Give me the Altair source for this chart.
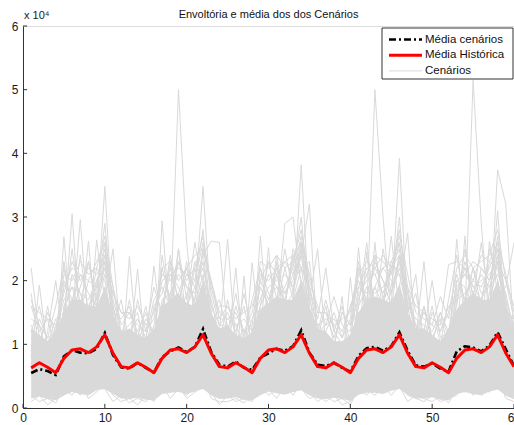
import altair as alt
import pandas as pd

FONT = "Liberation Sans"

# months 1..60 ; all flows in units of 10^4
MESES = list(range(1, 61))

MEDIA_HISTORICA = [
    0.63, 0.71, 0.64, 0.555, 0.78, 0.91, 0.93, 0.87, 0.96, 1.15, 0.86, 0.65,
    0.63, 0.71, 0.64, 0.555, 0.78, 0.91, 0.93, 0.87, 0.96, 1.15, 0.86, 0.65,
    0.63, 0.71, 0.64, 0.555, 0.78, 0.91, 0.93, 0.87, 0.96, 1.15, 0.86, 0.65,
    0.63, 0.71, 0.64, 0.555, 0.78, 0.91, 0.93, 0.87, 0.96, 1.15, 0.86, 0.65,
    0.63, 0.71, 0.64, 0.555, 0.78, 0.91, 0.93, 0.87, 0.96, 1.15, 0.86, 0.65,
]

MEDIA_CENARIOS = [
    0.55, 0.61, 0.58, 0.52, 0.81, 0.91, 0.87, 0.86, 0.93, 1.18, 0.83, 0.64,
    0.62, 0.71, 0.63, 0.56, 0.80, 0.89, 0.95, 0.88, 0.96, 1.24, 0.88, 0.68,
    0.65, 0.73, 0.63, 0.60, 0.79, 0.86, 0.93, 0.90, 0.97, 1.22, 0.87, 0.68,
    0.66, 0.71, 0.63, 0.57, 0.82, 0.94, 0.96, 0.90, 0.97, 1.19, 0.90, 0.67,
    0.65, 0.70, 0.62, 0.57, 0.89, 0.97, 0.95, 0.89, 0.98, 1.19, 0.92, 0.66,
]

# dense core of the scenario bundle (lower / upper edge)
FAIXA_INF = [
    0.15, 0.18, 0.14, 0.12, 0.20, 0.25, 0.22, 0.20, 0.28, 0.30, 0.22, 0.15,
    0.14, 0.16, 0.13, 0.12, 0.22, 0.24, 0.25, 0.22, 0.26, 0.30, 0.20, 0.14,
    0.15, 0.17, 0.13, 0.12, 0.20, 0.26, 0.23, 0.21, 0.25, 0.28, 0.20, 0.15,
    0.14, 0.16, 0.14, 0.11, 0.21, 0.24, 0.24, 0.22, 0.27, 0.30, 0.21, 0.15,
    0.15, 0.17, 0.13, 0.12, 0.22, 0.25, 0.22, 0.20, 0.26, 0.29, 0.20, 0.14,
]
FAIXA_SUP = [
    1.25, 1.15, 1.05, 1.20, 1.50, 1.70, 1.70, 1.60, 1.60, 1.90, 1.45, 1.20,
    1.25, 1.15, 1.10, 1.25, 1.60, 1.70, 1.80, 1.65, 1.60, 2.00, 1.50, 1.25,
    1.30, 1.15, 1.10, 1.20, 1.55, 1.65, 1.75, 1.70, 1.70, 2.00, 1.60, 1.25,
    1.20, 1.05, 1.05, 1.15, 1.50, 1.70, 1.75, 1.70, 1.65, 1.95, 1.50, 1.25,
    1.25, 1.15, 1.05, 1.25, 1.55, 1.70, 1.80, 1.70, 1.70, 2.00, 1.60, 1.25,
]

CENARIOS = [
    [2.2, 1.1, 0.7, 0.5, 0.9, 1.2, 1.0, 1.4, 1.1, 1.7, 2.5, 1.0,
     0.6, 0.8, 0.5, 0.6, 1.3, 1.1, 1.5, 1.2, 0.9, 1.4, 1.0, 0.7,
     0.9, 2.2, 0.8, 0.5, 1.0, 1.4, 1.2, 0.9, 1.6, 1.3, 0.8, 0.6,
     0.7, 0.9, 1.75, 0.6, 1.2, 1.0, 1.4, 1.1, 0.9, 1.8, 1.2, 0.5,
     0.8, 0.6, 0.4, 0.9, 2.65, 1.3, 1.0, 1.5, 1.2, 1.6, 0.9, 0.7],
    [0.8, 1.93, 0.9, 0.6, 1.2, 0.9, 1.5, 1.0, 1.4, 1.2, 0.8, 0.6,
     2.38, 0.9, 0.7, 0.5, 0.8, 1.4, 1.1, 1.3, 1.6, 1.9, 0.9, 0.5,
     0.7, 0.6, 2.07, 0.7, 1.3, 1.0, 1.6, 1.2, 1.0, 1.5, 1.1, 0.8,
     0.5, 0.7, 0.6, 2.05, 0.9, 1.5, 1.2, 1.0, 1.7, 1.3, 0.7, 0.9,
     0.6, 0.9, 0.8, 0.5, 1.1, 2.7, 1.3, 0.9, 1.4, 1.9, 1.0, 0.6],
    [0.5, 0.7, 1.2, 2.0, 1.0, 1.3, 0.9, 1.2, 1.5, 1.4, 0.9, 0.7,
     0.9, 2.18, 0.8, 0.6, 1.0, 1.2, 1.4, 0.9, 1.1, 1.6, 1.2, 0.9,
     0.6, 0.8, 0.7, 2.28, 1.1, 1.5, 1.0, 1.4, 1.2, 1.8, 0.9, 0.7,
     0.8, 0.5, 0.7, 0.9, 2.52, 1.2, 1.0, 1.5, 1.3, 1.6, 1.1, 0.6,
     0.7, 0.8, 0.6, 0.7, 1.2, 1.4, 5.15, 2.9, 1.3, 1.7, 1.2, 0.8],
    [1.0, 0.6, 0.8, 0.7, 2.69, 1.1, 1.3, 1.0, 1.2, 1.9, 1.0, 0.5,
     0.7, 0.9, 1.0, 2.23, 1.2, 1.0, 1.6, 1.3, 1.4, 1.5, 0.8, 0.7,
     0.8, 0.5, 0.9, 0.8, 2.7, 1.2, 1.3, 1.0, 1.5, 1.7, 1.3, 0.6,
     0.9, 0.7, 0.5, 0.8, 1.0, 2.45, 1.3, 1.2, 1.0, 1.5, 0.9, 0.8,
     0.5, 0.7, 0.9, 0.6, 1.4, 1.0, 1.6, 1.3, 1.1, 2.0, 1.4, 0.9],
    [0.7, 0.9, 0.6, 0.8, 1.3, 3.05, 1.2, 0.9, 1.3, 1.5, 1.2, 0.8,
     0.6, 0.7, 0.9, 0.7, 2.94, 1.3, 1.1, 1.4, 1.0, 1.7, 1.0, 0.6,
     0.9, 0.7, 0.6, 1.0, 1.2, 2.52, 1.1, 1.5, 1.3, 1.4, 1.0, 0.8,
     0.6, 0.8, 0.7, 0.6, 1.3, 1.5, 5.0, 3.0, 1.4, 1.6, 1.2, 0.7,
     0.9, 0.6, 0.7, 0.8, 1.0, 1.3, 1.5, 1.1, 2.62, 1.8, 1.1, 0.6],
    [0.6, 0.8, 0.9, 0.6, 1.1, 1.4, 2.96, 1.3, 1.0, 1.8, 1.1, 0.9,
     0.8, 0.6, 0.7, 0.9, 1.4, 2.3, 1.2, 1.0, 1.5, 1.3, 1.2, 0.7,
     0.7, 0.9, 0.5, 0.7, 1.1, 1.3, 2.3, 1.2, 1.4, 1.9, 1.1, 0.9,
     0.8, 0.6, 0.9, 0.7, 1.5, 1.1, 2.6, 1.4, 1.2, 1.7, 1.3, 0.6,
     0.7, 0.9, 0.6, 0.8, 1.2, 1.5, 1.3, 1.6, 1.4, 3.74, 3.2, 1.1],
    [0.9, 0.7, 0.6, 0.9, 1.2, 1.0, 1.4, 2.62, 1.1, 1.6, 0.9, 0.7,
     0.7, 0.8, 0.6, 0.8, 1.1, 1.5, 5.0, 2.6, 1.3, 1.8, 1.2, 0.8,
     0.6, 0.7, 0.9, 0.6, 1.3, 1.1, 1.5, 1.3, 1.2, 2.0, 1.4, 0.7,
     0.9, 0.8, 0.6, 0.7, 1.1, 1.4, 1.2, 1.6, 2.7, 1.5, 1.0, 0.8,
     0.8, 0.6, 0.7, 0.9, 1.3, 1.2, 1.5, 1.4, 1.6, 3.1, 1.3, 0.7],
    [0.7, 1.0, 0.8, 0.6, 1.0, 1.5, 1.2, 1.1, 2.64, 1.7, 1.2, 0.8,
     0.9, 0.6, 0.8, 0.7, 1.2, 1.3, 2.5, 1.3, 1.4, 1.6, 1.1, 0.6,
     0.8, 0.7, 0.6, 0.8, 1.2, 1.4, 1.6, 2.9, 3.0, 1.9, 1.2, 0.8,
     0.6, 0.9, 0.7, 0.5, 1.2, 1.3, 1.5, 1.2, 1.6, 3.92, 1.4, 0.9,
     0.7, 0.8, 0.6, 0.7, 1.1, 1.5, 1.3, 1.2, 1.4, 1.8, 1.9, 2.6],
    [0.8, 0.6, 0.7, 0.8, 1.3, 1.2, 1.6, 1.4, 1.5, 3.48, 1.3, 0.7,
     0.6, 0.9, 0.7, 0.6, 1.0, 1.4, 1.3, 1.5, 2.2, 1.7, 1.0, 0.9,
     0.7, 0.6, 0.8, 0.7, 1.2, 1.5, 1.4, 1.3, 1.6, 3.82, 1.5, 0.8,
     0.8, 0.7, 0.6, 0.9, 1.3, 1.2, 1.6, 1.5, 1.4, 1.9, 2.75, 1.0,
     0.6, 0.7, 0.9, 0.6, 1.2, 1.6, 1.4, 1.3, 1.8, 2.7, 1.5, 0.8],
    [0.6, 0.8, 0.7, 0.7, 1.1, 1.3, 1.5, 1.2, 1.8, 2.9, 1.4, 0.9,
     0.8, 0.7, 0.6, 0.8, 1.3, 1.2, 1.6, 1.4, 1.7, 3.48, 1.5, 0.8,
     0.7, 0.8, 0.9, 0.6, 1.4, 1.3, 1.5, 1.6, 1.8, 2.4, 3.2, 1.0,
     0.6, 0.7, 0.8, 0.6, 1.2, 1.4, 1.3, 1.7, 1.9, 3.0, 1.4, 0.7,
     0.9, 0.6, 0.7, 0.8, 1.4, 1.2, 1.7, 1.5, 1.6, 2.4, 1.2, 0.9],
    [0.7, 0.6, 0.9, 0.6, 1.2, 1.5, 1.3, 1.6, 1.9, 2.6, 1.2, 0.8,
     0.7, 0.8, 0.6, 0.7, 1.4, 1.6, 1.4, 1.8, 2.0, 2.8, 1.3, 0.7,
     0.8, 0.6, 0.7, 0.8, 1.3, 1.6, 1.7, 1.9, 2.2, 3.0, 1.6, 0.9,
     0.7, 0.6, 0.8, 0.7, 1.1, 1.5, 1.9, 1.6, 1.8, 2.3, 1.5, 2.1,
     0.8, 0.7, 0.6, 0.9, 1.3, 1.6, 1.8, 1.7, 2.0, 2.5, 1.4, 0.8],
    [0.9, 0.7, 0.6, 0.8, 1.5, 1.7, 1.6, 1.5, 1.7, 2.2, 1.5, 1.0,
     0.8, 0.6, 0.7, 0.9, 1.3, 1.8, 1.7, 1.6, 1.9, 2.4, 2.62, 2.6,
     1.2, 0.8, 0.7, 0.6, 1.5, 1.7, 1.9, 1.8, 2.0, 2.6, 1.8, 0.9,
     0.8, 0.7, 0.6, 0.8, 1.6, 1.9, 1.8, 1.9, 2.1, 2.6, 1.6, 1.0,
     0.7, 0.8, 0.6, 0.7, 1.7, 1.8, 2.0, 1.9, 2.2, 2.5, 1.7, 0.9],
    [0.8, 0.9, 0.7, 0.6, 1.6, 1.9, 1.8, 1.7, 2.0, 2.4, 1.6, 1.1,
     0.9, 0.7, 0.8, 0.7, 1.7, 1.8, 2.1, 1.9, 1.8, 2.3, 1.4, 1.2,
     2.65, 1.0, 0.8, 0.7, 1.6, 1.9, 2.0, 2.1, 1.9, 2.5, 1.7, 2.5,
     1.0, 0.8, 0.7, 0.6, 1.8, 2.0, 2.1, 1.8, 2.2, 2.4, 1.8, 1.1,
     2.3, 0.9, 0.7, 0.8, 1.9, 2.1, 1.9, 2.0, 2.1, 2.3, 1.5, 1.0],
    [1.2, 1.0, 0.9, 1.1, 1.9, 2.2, 2.1, 2.0, 1.9, 2.5, 1.7, 1.2,
     1.1, 1.2, 1.0, 1.3, 2.0, 2.1, 2.2, 2.1, 2.0, 2.6, 1.8, 1.3,
     1.3, 1.1, 1.2, 1.0, 2.1, 2.0, 2.2, 2.3, 2.1, 2.7, 1.9, 1.4,
     2.2, 1.2, 1.0, 1.1, 1.9, 2.2, 2.1, 2.2, 2.3, 2.6, 1.8, 1.3,
     1.2, 2.0, 1.1, 1.2, 2.0, 2.1, 2.3, 2.2, 2.0, 2.6, 1.7, 1.3],
    [1.4, 1.3, 1.1, 1.2, 2.1, 2.0, 2.3, 2.1, 2.2, 2.7, 1.9, 1.3,
     1.5, 1.3, 1.2, 1.4, 2.2, 2.3, 2.0, 2.2, 2.4, 2.5, 2.0, 1.5,
     1.4, 1.5, 1.2, 1.3, 2.3, 2.2, 2.4, 2.2, 2.3, 2.8, 2.0, 1.6,
     1.3, 1.75, 1.3, 1.2, 2.1, 2.3, 2.2, 2.4, 2.2, 2.7, 2.1, 1.5,
     1.4, 1.3, 1.75, 1.4, 2.2, 2.4, 2.2, 2.3, 2.4, 2.8, 2.0, 1.6],
    [1.6, 1.5, 1.4, 1.3, 1.8, 2.3, 2.0, 2.2, 2.1, 2.3, 1.8, 1.5,
     1.4, 1.6, 1.3, 1.5, 2.1, 2.0, 2.3, 2.0, 2.2, 2.7, 1.9, 1.4,
     1.6, 1.4, 1.5, 1.6, 2.0, 2.3, 2.1, 2.3, 2.4, 2.6, 2.1, 1.5,
     1.5, 1.3, 1.4, 1.5, 2.2, 2.1, 2.4, 2.3, 2.1, 2.8, 1.9, 1.6,
     1.5, 1.4, 1.3, 2.25, 2.3, 2.2, 2.0, 2.4, 2.3, 2.6, 2.1, 1.5],
    [0.2, 0.1, 0.15, 0.08, 0.3, 0.2, 0.4, 0.15, 0.25, 0.45, 0.2, 0.1,
     0.15, 0.05, 0.2, 0.1, 0.35, 0.15, 0.3, 0.2, 0.35, 0.5, 0.15, 0.1,
     0.1, 0.15, 0.08, 0.2, 0.25, 0.3, 0.15, 0.35, 0.2, 0.4, 0.25, 0.1,
     0.2, 0.1, 0.15, 0.05, 0.3, 0.2, 0.35, 0.25, 0.3, 0.45, 0.2, 0.15,
     0.1, 0.2, 0.1, 0.15, 0.2, 0.35, 0.2, 0.3, 0.25, 0.5, 0.15, 0.1],
    [0.1, 0.2, 0.05, 0.15, 0.2, 0.35, 0.2, 0.3, 0.4, 0.3, 0.1, 0.2,
     0.08, 0.15, 0.1, 0.2, 0.25, 0.3, 0.35, 0.15, 0.25, 0.35, 0.25, 0.05,
     0.2, 0.1, 0.15, 0.1, 0.35, 0.2, 0.3, 0.25, 0.4, 0.3, 0.15, 0.2,
     0.1, 0.2, 0.05, 0.1, 0.25, 0.3, 0.2, 0.35, 0.2, 0.35, 0.1, 0.2,
     0.15, 0.1, 0.2, 0.08, 0.3, 0.25, 0.35, 0.2, 0.3, 0.4, 0.2, 0.15],
    [1.8, 0.9, 1.6, 1.0, 2.3, 1.4, 2.4, 1.5, 2.2, 2.0, 1.3, 1.7,
     1.0, 1.7, 1.2, 1.9, 1.5, 2.4, 1.6, 2.3, 1.5, 2.5, 1.2, 1.0,
     1.7, 1.1, 1.8, 1.2, 1.6, 2.3, 1.7, 2.5, 1.8, 2.6, 1.4, 1.1,
     1.6, 1.0, 1.5, 1.3, 2.2, 1.5, 2.4, 1.7, 2.3, 2.1, 1.5, 1.8,
     1.1, 1.6, 1.0, 1.7, 2.4, 1.6, 2.2, 1.6, 2.5, 2.0, 1.3, 1.1],
    [1.2, 1.6, 1.0, 1.4, 1.5, 2.5, 1.6, 2.3, 1.7, 2.4, 1.9, 1.1,
     1.7, 1.1, 1.6, 1.0, 2.4, 1.6, 2.5, 1.7, 2.6, 1.9, 1.5, 1.7,
     1.2, 1.8, 1.1, 1.7, 2.2, 1.5, 2.4, 1.6, 2.5, 2.2, 2.3, 1.2,
     1.7, 1.2, 1.6, 1.0, 1.6, 2.6, 1.5, 2.5, 1.8, 2.4, 1.3, 1.0,
     1.6, 1.0, 1.5, 1.2, 1.6, 2.5, 1.7, 2.6, 1.6, 2.3, 2.0, 1.4],
    [1.6, 1.2, 1.4, 0.9, 2.0, 1.7, 2.1, 1.8, 1.6, 2.3, 1.4, 1.2,
     1.3, 1.5, 0.9, 1.6, 1.8, 2.2, 1.7, 2.1, 1.9, 2.2, 1.6, 1.3,
     1.5, 1.2, 1.6, 1.0, 2.0, 1.7, 2.2, 1.8, 2.1, 2.4, 1.5, 1.3,
     1.2, 1.5, 1.1, 1.6, 1.9, 1.8, 2.2, 2.0, 1.8, 2.2, 1.7, 1.2,
     1.6, 1.1, 1.4, 1.0, 1.8, 2.2, 1.8, 2.1, 1.9, 2.3, 1.4, 1.2],
    [0.9, 1.4, 1.1, 1.6, 2.2, 1.5, 1.9, 2.3, 1.6, 2.1, 1.5, 1.4,
     1.6, 1.0, 1.4, 1.2, 1.6, 2.1, 1.9, 1.6, 2.3, 2.0, 1.7, 1.1,
     1.0, 1.6, 1.2, 1.5, 2.2, 1.8, 1.6, 2.2, 1.7, 2.2, 1.4, 1.5,
     1.5, 1.1, 1.5, 1.3, 1.7, 2.1, 1.7, 1.6, 2.2, 2.5, 1.4, 1.3,
     1.0, 1.5, 1.2, 1.5, 2.1, 1.7, 2.2, 1.8, 1.9, 2.1, 1.8, 1.2],
    [1.3, 1.0, 1.5, 1.2, 1.7, 1.9, 1.5, 2.0, 2.3, 2.6, 1.6, 1.0,
     1.2, 1.4, 1.1, 1.7, 1.9, 1.6, 2.3, 1.9, 1.7, 2.5, 2.0, 1.4,
     1.4, 1.3, 1.0, 1.4, 1.7, 2.1, 1.9, 1.7, 2.3, 2.2, 1.9, 1.2,
     1.3, 1.4, 1.2, 1.6, 2.0, 1.7, 2.3, 2.0, 1.6, 2.4, 1.6, 1.4,
     1.3, 1.2, 1.5, 1.1, 2.0, 1.9, 1.6, 2.2, 2.0, 2.4, 1.6, 1.3],
    [1.7, 1.3, 0.8, 1.3, 1.4, 2.1, 1.8, 1.4, 2.0, 2.2, 1.8, 1.5,
     1.5, 1.2, 1.5, 1.1, 2.2, 1.7, 1.8, 2.2, 1.6, 2.1, 1.3, 1.6,
     1.6, 1.3, 1.4, 1.2, 1.9, 1.6, 2.1, 1.6, 2.4, 2.0, 1.7, 1.3,
     1.4, 1.3, 1.1, 1.4, 2.3, 1.6, 1.9, 2.2, 2.0, 2.1, 1.9, 1.2,
     1.5, 1.3, 1.2, 1.6, 1.7, 2.3, 1.9, 1.7, 2.3, 2.2, 1.5, 1.4],
]

Y_TICKS = [0, 1, 2, 3, 4, 5, 6]
X_TICKS = [0, 10, 20, 30, 40, 50, 60]
MULTIPLICADOR = ["x 10⁴"]
LEGENDA = ["Média cenários", "Média Histórica", "Cenários"]

GRAY = "#d9d9d9"
AXIS_COLOR = "#333333"
TEXT_COLOR = "#1a1a1a"
DASH_DOT = [7, 3, 2, 3]

for serie in [MEDIA_HISTORICA, MEDIA_CENARIOS, FAIXA_INF, FAIXA_SUP] + CENARIOS:
    assert len(serie) == len(MESES)

# ---- tables ----
df_faixa = pd.DataFrame({"mes": MESES, "inf": FAIXA_INF, "sup": FAIXA_SUP})
df_cen = pd.DataFrame(
    [
        {"mes": m, "valor": v, "cenario": i}
        for i, linha in enumerate(CENARIOS)
        for m, v in zip(MESES, linha)
    ]
)
df_mc = pd.DataFrame({"mes": MESES, "valor": MEDIA_CENARIOS})
df_mh = pd.DataFrame({"mes": MESES, "valor": MEDIA_HISTORICA})
df_yt = pd.DataFrame({"v": Y_TICKS, "a": 0, "b": 0.5})
df_xt = pd.DataFrame({"v": X_TICKS, "a": 0, "b": 0.065})

# ---- scales / axes ----
xs = alt.Scale(domain=[0, 60], nice=False, zero=False)
ys = alt.Scale(domain=[0, 6], nice=False)
x_axis = alt.Axis(values=X_TICKS, grid=False, ticks=False, labelFont=FONT, labelFontSize=12,
                  labelColor=TEXT_COLOR, labelPadding=4, domainColor=AXIS_COLOR, title=None,
                  labelFlush=False, format="d")
y_axis = alt.Axis(values=Y_TICKS, grid=False, ticks=False, labelFont=FONT, labelFontSize=12,
                  labelColor=TEXT_COLOR, labelPadding=5, domainColor=AXIS_COLOR, title=None,
                  format="d")

X = alt.X("mes:Q", scale=xs)
Y = alt.Y("valor:Q", scale=ys)

faixa = alt.Chart(df_faixa).mark_area(color=GRAY, opacity=1).encode(
    x=alt.X("mes:Q", scale=xs, axis=x_axis),
    y=alt.Y("inf:Q", scale=ys, axis=y_axis),
    y2="sup:Q",
)
cen = alt.Chart(df_cen).mark_line(strokeWidth=1, color=GRAY).encode(
    x=X, y=Y, detail="cenario:N"
)
media_cen = alt.Chart(df_mc).mark_line(
    strokeWidth=2.6, color="#000000", strokeDash=DASH_DOT
).encode(x=X, y=Y)
media_hist = alt.Chart(df_mh).mark_line(
    strokeWidth=3, color="#ff0000", strokeJoin="round"
).encode(x=X, y=Y)

# inward tick marks
tick_y = alt.Chart(df_yt).mark_rule(color=AXIS_COLOR, strokeWidth=1).encode(
    x=alt.X("a:Q", scale=xs), x2="b:Q", y=alt.Y("v:Q", scale=ys)
)
tick_x = alt.Chart(df_xt).mark_rule(color=AXIS_COLOR, strokeWidth=1).encode(
    x=alt.X("v:Q", scale=xs), y=alt.Y("a:Q", scale=ys), y2="b:Q"
)

# axis multiplier above the y axis
mult = alt.Chart(pd.DataFrame({"t": MULTIPLICADOR})).mark_text(
    align="left", baseline="alphabetic", font=FONT, fontSize=11, color=TEXT_COLOR
).encode(text="t:N", x=alt.value(1), y=alt.value(-7))

# ---- legend box (top right) ----
leg_box = alt.Chart(pd.DataFrame({"t": [0]})).mark_rect(
    fill="white", stroke="#333333", strokeWidth=1
).encode(x=alt.value(359), x2=alt.value(490), y=alt.value(2), y2=alt.value(53))

leg_styles = [
    dict(color="#000000", strokeWidth=2.6, strokeDash=DASH_DOT),
    dict(color="#ff0000", strokeWidth=3),
    dict(color=GRAY, strokeWidth=1),
]
leg_layers = []
for i, (rotulo, estilo) in enumerate(zip(LEGENDA, leg_styles)):
    cy = 13.5 + 15.7 * i
    df_l = pd.DataFrame({"rotulo": [rotulo]})
    leg_layers.append(
        alt.Chart(df_l).mark_rule(**estilo).encode(
            x=alt.value(366), x2=alt.value(399), y=alt.value(cy)
        )
    )
    leg_layers.append(
        alt.Chart(df_l).mark_text(
            align="left", baseline="middle", font=FONT, fontSize=11.5, color="#111111"
        ).encode(text="rotulo:N", x=alt.value(402), y=alt.value(cy))
    )

chart = alt.layer(
    faixa, cen, media_cen, media_hist, tick_y, tick_x, mult, leg_box, *leg_layers
).properties(
    width=491, height=382,
    title=alt.Title("Envoltória e média dos dos Cenários", font=FONT, fontSize=11,
                    fontWeight="normal", color="#111111", offset=2, dy=12, anchor="middle"),
    autosize=alt.AutoSizeParams(type="none"),
    padding={"left": 23, "top": 26, "right": 0, "bottom": 17},
).configure_view(stroke=None).configure(background="white")

chart.save("out.html", embed_options={"renderer": "svg", "actions": False})
